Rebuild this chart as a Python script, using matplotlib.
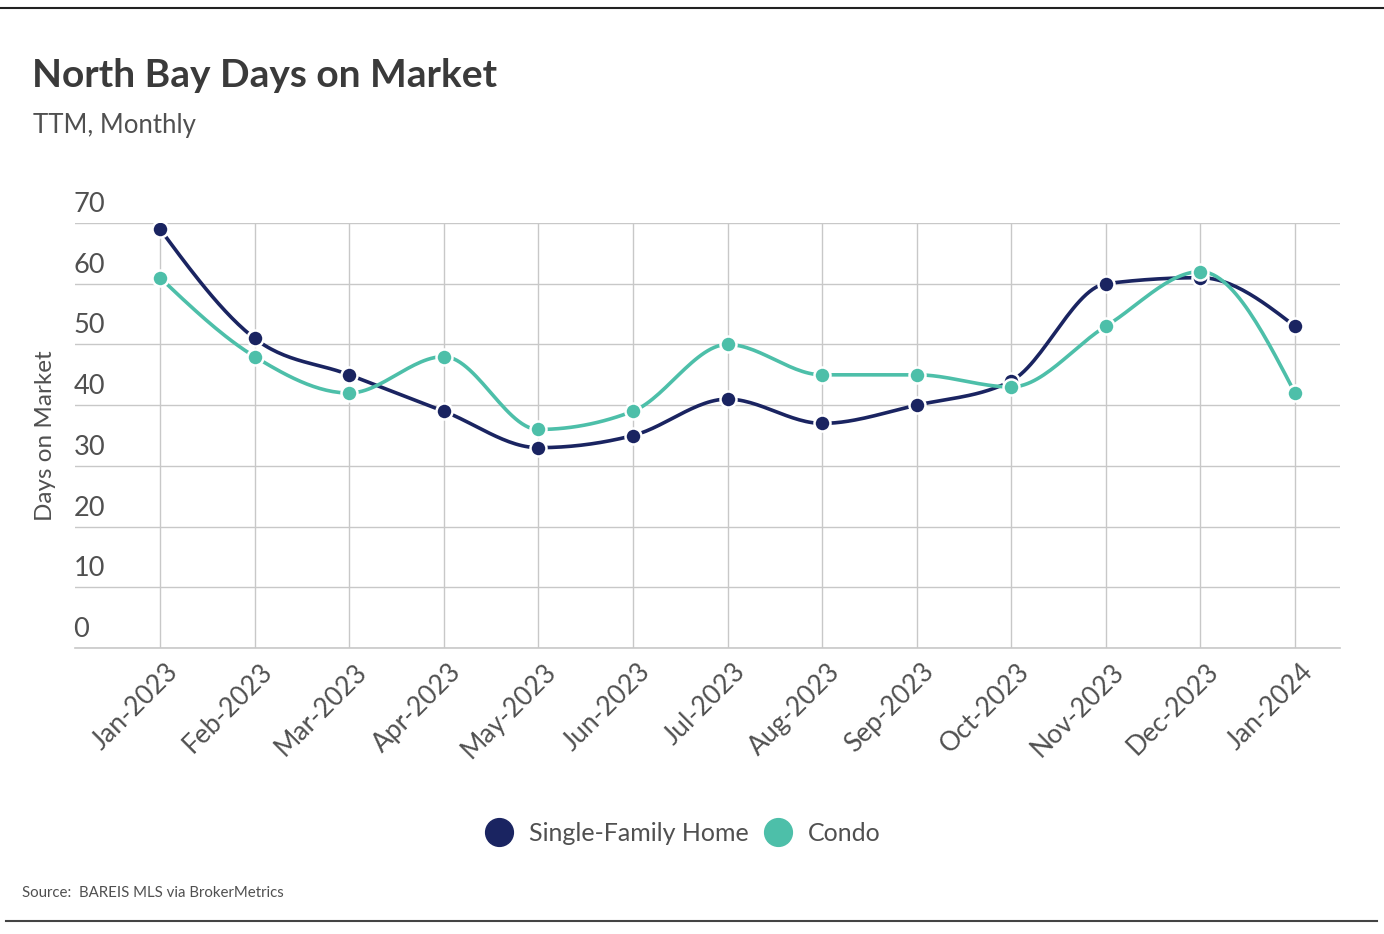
import matplotlib.pyplot as plt
import matplotlib.transforms as mtransforms
from matplotlib.lines import Line2D
import numpy as np

# ========= Data ============
months = ['Jan-2023', 'Feb-2023', 'Mar-2023', 'Apr-2023', 'May-2023', 'Jun-2023',
          'Jul-2023', 'Aug-2023', 'Sep-2023', 'Oct-2023', 'Nov-2023', 'Dec-2023', 'Jan-2024']
sfh = [69, 51, 45, 39, 33, 35, 41, 37, 40, 44, 60, 61, 53]
condo = [61, 48, 42, 48, 36, 39, 50, 45, 45, 43, 53, 62, 42]
yticks = [0, 10, 20, 30, 40, 50, 60, 70]

NAVY = '#1a2461'
TEAL = '#4dbfa9'
GRID = '#c8c8c8'
TEXT = '#505050'
FONT = 'Lato'


def monotone(y, n=30):
    # monotone cubic (like d3 curveMonotoneX), unit spacing
    y = np.asarray(y, dtype=float)
    d = np.diff(y)
    m = np.zeros(len(y))
    for k in range(1, len(y) - 1):
        s0, s1 = d[k - 1], d[k]
        p = (s0 + s1) / 2
        m[k] = (np.sign(s0) + np.sign(s1)) * min(abs(s0), abs(s1), 0.5 * abs(p))
    m[0] = (3 * d[0] - m[1]) / 2
    m[-1] = (3 * d[-1] - m[-2]) / 2
    xs, ys = [], []
    t = np.linspace(0, 1, n)
    h00 = 2 * t**3 - 3 * t**2 + 1
    h10 = t**3 - 2 * t**2 + t
    h01 = -2 * t**3 + 3 * t**2
    h11 = t**3 - t**2
    for k in range(len(y) - 1):
        xs.append(k + t)
        ys.append(h00 * y[k] + h10 * m[k] + h01 * y[k + 1] + h11 * m[k + 1])
    return np.concatenate(xs), np.concatenate(ys)


# ========= Plot configuration ============
fig = plt.figure(figsize=(13.84, 9.34), dpi=100)
ax = fig.add_axes([0.0542, 0.3062, 0.914, 0.455])
x = np.arange(len(months))

for vals, col in [(sfh, NAVY), (condo, TEAL)]:
    sx, sy = monotone(vals)
    ax.plot(sx, sy, color=col, lw=2.6, solid_capstyle='round', zorder=3)
    ax.plot(x, vals, 'o', color=col, ms=11.5, mec='white', mew=1.8, zorder=4)

ax.set_xlim(-0.899, 12.476)
ax.set_ylim(0, 70)
ax.set_xticks(x)
ax.set_xticklabels(months, rotation=45, ha='right', va='top', rotation_mode='anchor',
                   fontsize=19, color=TEXT, family=FONT)
ax.set_yticks(yticks)
ax.set_yticklabels([str(v) for v in yticks], fontsize=19.5, color=TEXT, family=FONT)
ax.tick_params(axis='both', length=0)
ax.tick_params(axis='y', pad=1)
ax.tick_params(axis='x', pad=2)
for lab in ax.get_yticklabels():
    lab.set_horizontalalignment('left')
    lab.set_verticalalignment('bottom')
    lab.set_transform(lab.get_transform() + mtransforms.ScaledTranslation(0, 0.06, fig.dpi_scale_trans))
for lab in ax.get_xticklabels():
    lab.set_transform(lab.get_transform() + mtransforms.ScaledTranslation(0.05, -0.08, fig.dpi_scale_trans))

ax.grid(True, color=GRID, lw=1)
ax.axhline(0, color=GRID, lw=1.2, clip_on=False, zorder=1)
ax.set_axisbelow(True)
for s in ax.spines.values():
    s.set_visible(False)

ax.set_ylabel('Days on Market', fontsize=17.5, color=TEXT, family=FONT, labelpad=13)

# ========= Texts ============
fig.text(0.023, 0.907, 'North Bay Days on Market', fontsize=28, fontweight='bold',
         color='#3a3a3a', family=FONT, va='baseline')
fig.text(0.024, 0.858, 'TTM, Monthly', fontsize=18.5, color=TEXT, family=FONT, va='baseline')
fig.text(0.016, 0.040, 'Source:  BAREIS MLS via BrokerMetrics', fontsize=10.8, color=TEXT,
         family=FONT, va='baseline')

handles = [Line2D([], [], ls='none', marker='o', color=NAVY, ms=20, label='Single-Family Home'),
           Line2D([], [], ls='none', marker='o', color=TEAL, ms=20, label='Condo')]
fig.legend(handles=handles, loc='center', bbox_to_anchor=(0.493, 0.108), ncol=2, frameon=False,
           prop={'family': FONT, 'size': 18}, labelcolor=TEXT, handletextpad=0.6,
           columnspacing=0.6, handlelength=1.2)

# frame lines
fig.add_artist(Line2D([0.0, 1.0], [0.991, 0.991], color='#222222', lw=1.5))
fig.add_artist(Line2D([0.004, 0.995], [0.014, 0.014], color='#444444', lw=1.5))

fig.savefig('out.png', dpi=100)
